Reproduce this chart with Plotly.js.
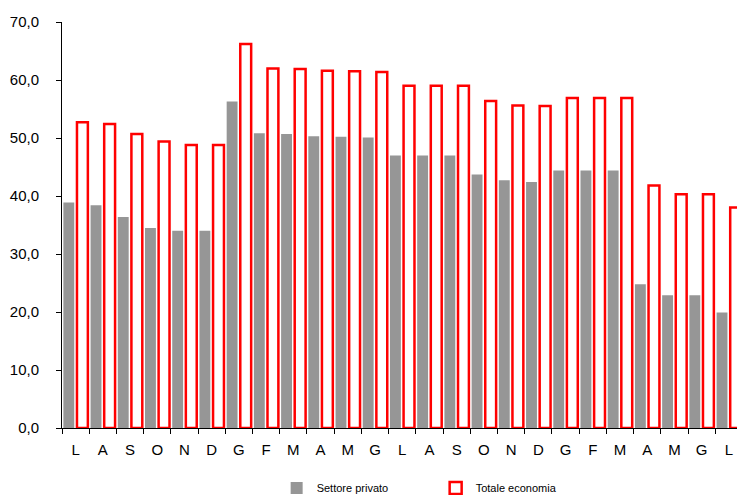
<!DOCTYPE html>
<html>
<head>
<meta charset="utf-8">
<script src="https://cdn.plot.ly/plotly-3.0.1.min.js"></script>
<style>html,body{margin:0;padding:0;background:#fff;}#chart{width:737px;height:495px;}</style>
</head>
<body>
<div id="chart"></div>
<script>
const categories = ["L","A","S","O","N","D","G","F","M","A","M","G","L","A","S","O","N","D","G","F","M","A","M","G","L"];
const settorePrivato = [38.9,38.4,36.4,34.5,34.0,34.0,56.3,50.8,50.7,50.3,50.2,50.1,47.0,47.0,47.0,43.7,42.7,42.4,44.4,44.4,44.4,24.8,22.9,22.9,19.9];
const totaleEconomia = [52.7,52.4,50.7,49.4,48.8,48.8,66.2,62.0,61.9,61.6,61.5,61.4,59.0,59.0,59.0,56.4,55.6,55.5,56.9,56.9,56.9,41.8,40.3,40.3,38.0];

const idx = categories.map((c, i) => i);

const traces = [
  {
    type: "bar", name: "Settore privato", x: idx, y: settorePrivato,
    marker: {color: "#969696", line: {width: 0}}
  },
  {
    type: "bar", name: "Totale economia", x: idx, y: totaleEconomia,
    marker: {color: "#ffffff", line: {color: "#ff0000", width: 2.5}}
  },
  {type: "scatter", x: [0], y: [0], xaxis: "x2", mode: "markers", marker: {opacity: 0}, showlegend: false, hoverinfo: "skip"}
];

const layout = {
  width: 737, height: 495,
  margin: {l: 62, r: 0, t: 22, b: 67, autoexpand: false},
  paper_bgcolor: "#fff", plot_bgcolor: "#fff",
  font: {family: "Liberation Sans, Arial, sans-serif", color: "#000"},
  separators: ",.",
  barmode: "group", bargap: 0.0, bargroupgap: 0.2,
  showlegend: true,
  legend: {
    orientation: "h", x: 0.318, xanchor: "left", y: -0.148, yanchor: "middle",
    font: {size: 11, color: "#000"}, itemwidth: 30, entrywidth: 114, entrywidthmode: "pixels",
    traceorder: "normal"
  },
  xaxis: {
    type: "linear", range: [-0.5, 24.3],
    tickmode: "array", tickvals: idx, ticktext: categories,
    showgrid: false, zeroline: false, showline: true, linecolor: "#000", linewidth: 1,
    ticks: "", tickfont: {size: 15, color: "#000"}, ticklabelstandoff: 8
  },
  xaxis2: {
    overlaying: "x", type: "linear", range: [-0.5, 24.3],
    tickmode: "array", tickvals: idx.map(i => i - 0.5),
    showticklabels: false, showgrid: false, zeroline: false,
    ticks: "outside", ticklen: 5, tickcolor: "#000", tickwidth: 1
  },
  yaxis: {
    range: [0, 70], dtick: 10, tickformat: ".1f",
    showgrid: false, zeroline: false, showline: true, linecolor: "#000", linewidth: 1,
    ticks: "outside", ticklen: 5, tickcolor: "#000",
    tickfont: {size: 15, color: "#000"}, ticklabelstandoff: 14
  }
};

Plotly.newPlot("chart", traces, layout, {displayModeBar: false, staticPlot: true});
</script>
</body>
</html>
